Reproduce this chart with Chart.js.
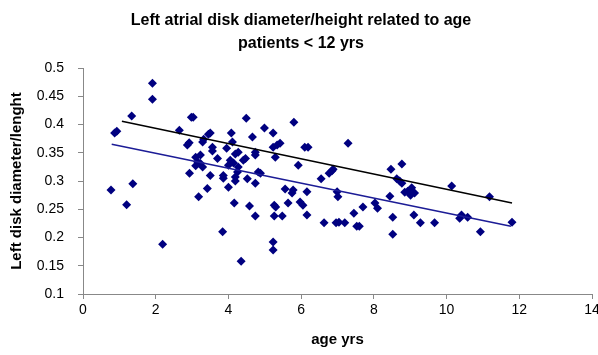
<!DOCTYPE html>
<html>
<head>
<meta charset="utf-8">
<script src="https://cdn.jsdelivr.net/npm/chart.js@4"></script>
<style>
  html, body { margin: 0; padding: 0; background: #fff; }
  #wrap { width: 598px; height: 355px; }
</style>
</head>
<body>
<div id="wrap"><canvas id="diskChart"></canvas></div>
<script>
// patients (age in years) and left disk diameter / length
const ageYrs = [
  0.77, 0.87, 0.93, 1.2, 1.34, 1.37, 1.91, 1.91, 2.19, 2.65, 2.87, 2.92, 2.93, 2.98, 3.03,
  3.1, 3.18, 3.15, 3.1, 3.29, 3.32, 3.23, 3.23, 3.29, 3.42, 3.45, 3.5, 3.5, 3.56, 3.56,
  3.7, 3.84, 3.86, 3.86, 3.95, 4.0, 4.08, 4.11, 4.19, 4.27, 4.19, 4.19, 4.16, 4.05, 4.14,
  4.0, 4.27, 4.25, 4.35, 4.41, 4.47, 4.49, 4.52, 4.58, 4.66, 4.74, 4.74, 4.74, 4.74, 4.82,
  4.88, 4.99, 5.23, 5.23, 5.29, 5.34, 5.42, 5.23, 5.23, 5.26, 5.3, 5.26, 5.48, 5.56, 5.64,
  5.75, 5.78, 5.8, 5.92, 5.97, 6.05, 6.1, 6.19, 6.16, 6.16, 6.55, 6.63, 6.77, 6.85, 6.88,
  6.96, 7.04, 7.2, 6.99, 7.01, 7.29, 7.45, 7.53, 7.6, 7.7, 8.03, 8.1, 8.44, 8.47, 8.52,
  8.52, 8.63, 8.71, 8.77, 8.77, 8.85, 8.93, 9.04, 9.12, 9.01, 9.1, 9.28, 9.67, 10.14, 10.36,
  10.41, 10.58, 10.93, 11.18, 11.8
];
const diskRatio = [
  0.284, 0.385, 0.388, 0.258, 0.415, 0.295, 0.473, 0.445, 0.188, 0.39, 0.364, 0.368, 0.314, 0.413, 0.413,
  0.342, 0.272, 0.334, 0.327, 0.369, 0.374, 0.346, 0.331, 0.325, 0.287, 0.383, 0.385, 0.31, 0.36, 0.353,
  0.34, 0.21, 0.305, 0.31, 0.358, 0.289, 0.385, 0.369, 0.348, 0.351, 0.307, 0.3, 0.261, 0.337, 0.332,
  0.328, 0.325, 0.316, 0.158, 0.337, 0.34, 0.411, 0.304, 0.256, 0.378, 0.351, 0.346, 0.296, 0.238, 0.316,
  0.314, 0.394, 0.385, 0.36, 0.342, 0.364, 0.367, 0.192, 0.178, 0.257, 0.254, 0.238, 0.238, 0.286, 0.261,
  0.279, 0.284, 0.404, 0.328, 0.263, 0.257, 0.36, 0.36, 0.281, 0.24, 0.304, 0.226, 0.314, 0.318, 0.321,
  0.226, 0.227, 0.226, 0.281, 0.272, 0.367, 0.243, 0.22, 0.22, 0.254, 0.261, 0.252, 0.273, 0.321, 0.236,
  0.206, 0.304, 0.3, 0.33, 0.296, 0.28, 0.282, 0.288, 0.279, 0.275, 0.24, 0.226, 0.226, 0.291, 0.234,
  0.24, 0.236, 0.21, 0.272, 0.227
];

// the two straight lines (end points)
const blackLineX = [1.07, 11.8];
const blackLineY = [0.406, 0.261];
const blueLineX = [0.79, 11.77];
const blueLineY = [0.365, 0.220];

const pts = (xs, ys) => xs.map((x, i) => ({ x: x, y: ys[i] }));
const fontFam = "'Liberation Sans', Arial, sans-serif";

new Chart(document.getElementById("diskChart"), {
  type: "scatter",
  data: {
    datasets: [
      {
        type: "line",
        data: pts(blackLineX, blackLineY),
        borderColor: "#000000",
        borderWidth: 1.5,
        pointRadius: 0,
        fill: false,
        order: 0
      },
      {
        type: "line",
        data: pts(blueLineX, blueLineY),
        borderColor: "#1c1c96",
        borderWidth: 1.5,
        pointRadius: 0,
        fill: false,
        order: 0
      },
      {
        data: pts(ageYrs, diskRatio),
        pointStyle: "rectRot",
        pointRadius: 4.5,
        backgroundColor: "#000080",
        borderColor: "#000080",
        borderWidth: 0,
        order: 1
      }
    ]
  },
  options: {
    responsive: true,
    maintainAspectRatio: false,
    animation: false,
    layout: { padding: { left: 4, right: 0, top: 9, bottom: 2 } },
    plugins: {
      legend: { display: false },
      tooltip: { enabled: false },
      title: {
        display: true,
        text: ["Left atrial disk diameter/height related to age", "patients < 12 yrs"],
        color: "#000",
        font: { family: fontFam, size: 16, weight: "bold", lineHeight: 1.44 },
        padding: { top: 0, bottom: 13 }
      }
    },
    scales: {
      x: {
        type: "linear",
        min: 0,
        max: 14,
        ticks: { stepSize: 2, color: "#000", font: { family: fontFam, size: 14 }, padding: 3 },
        grid: { display: true, drawOnChartArea: false, drawTicks: true, tickLength: 5, color: "#888" },
        border: { display: true, color: "#888" },
        title: { display: true, text: "age yrs", color: "#000", font: { family: fontFam, size: 15, weight: "bold" },
                 padding: { top: 14 } },
        afterFit: (s) => { s.height = 59; s.paddingRight = 6; }
      },
      y: {
        min: 0.1,
        max: 0.5,
        ticks: { stepSize: 0.05, color: "#000", font: { family: fontFam, size: 14 }, padding: 14,
                 callback: (v) => Number(v.toFixed(2)).toString() },
        grid: { display: true, drawOnChartArea: false, drawTicks: true, tickLength: 5, color: "#888" },
        border: { display: true, color: "#888" },
        title: { display: true, text: "Left disk diameter/lenght", color: "#000", font: { family: fontFam, size: 15, weight: "bold" } },
        afterFit: (s) => { s.width = 79; }
      }
    }
  }
});
</script>
</body>
</html>
